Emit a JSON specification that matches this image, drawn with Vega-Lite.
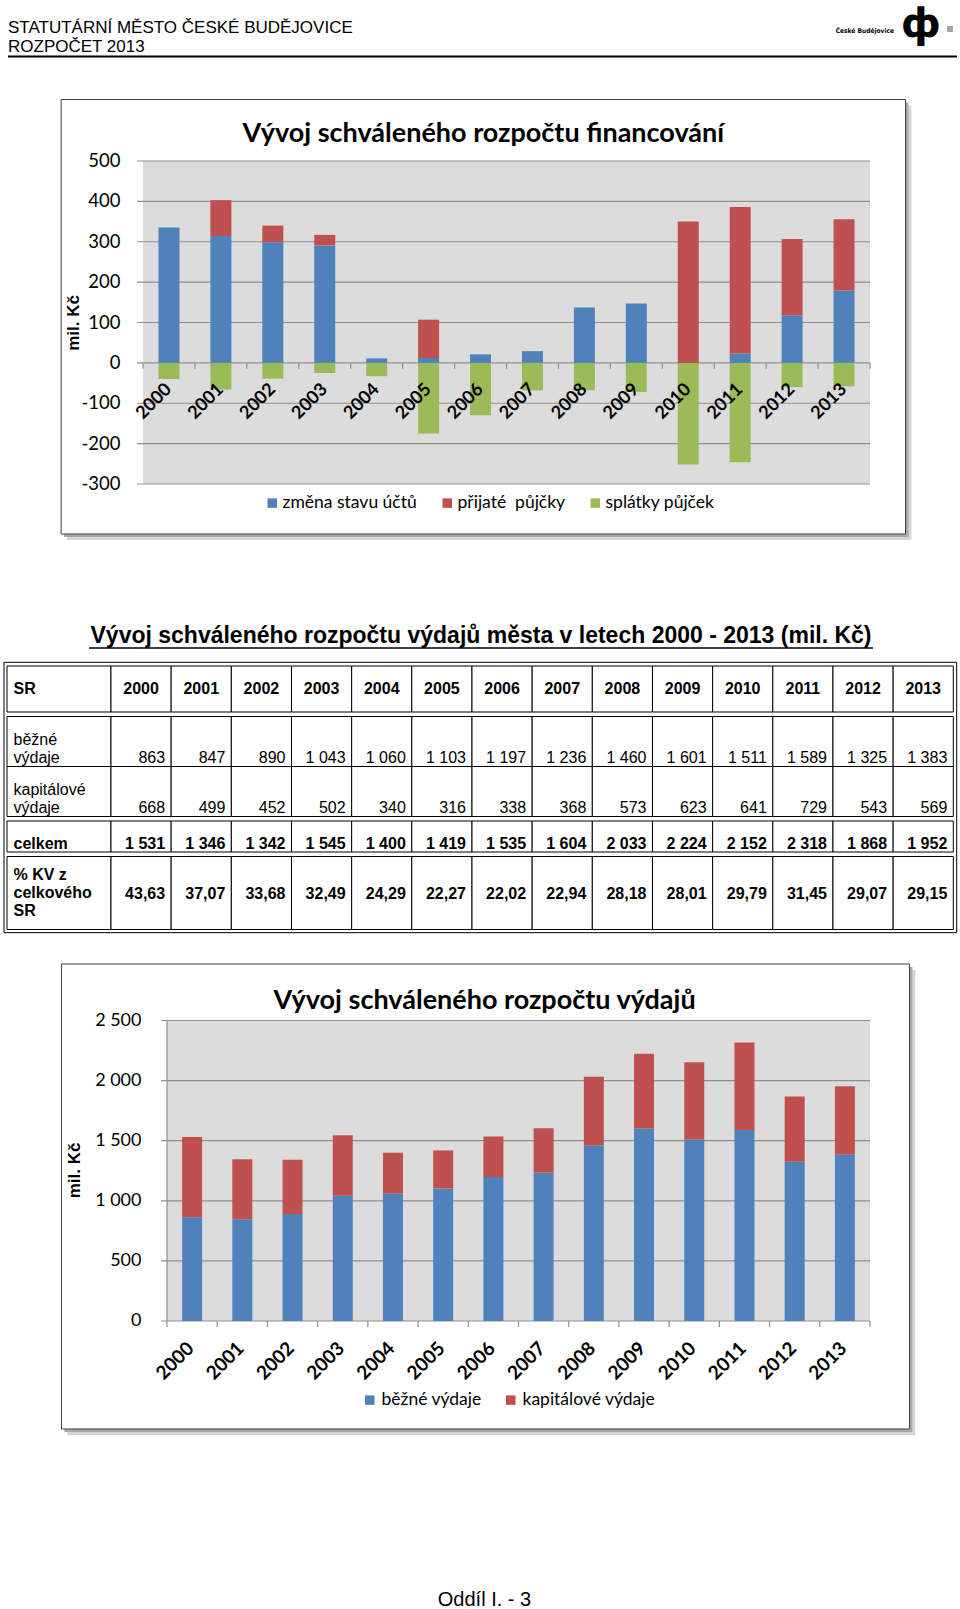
{
"$schema": "https://vega.github.io/schema/vega-lite/v6.json",
"width": 960,
"height": 1609,
"autosize": {"type": "none"},
"padding": 0,
"background": "white",
"config": {
  "view": {"stroke": null},
  "font": "Liberation Sans",
  "locale": {"number": {"decimal": ",", "thousands": " ", "grouping": [3], "currency": ["", " Kč"], "minus": "-"}}
},
"datasets": {
  "fin": [
    {"year": 2000, "series": "změna stavu účtů", "value": 335},
    {"year": 2000, "series": "splátky půjček", "value": -40},
    {"year": 2001, "series": "změna stavu účtů", "value": 314},
    {"year": 2001, "series": "přijaté\u00a0 půjčky", "value": 89},
    {"year": 2001, "series": "splátky půjček", "value": -66},
    {"year": 2002, "series": "změna stavu účtů", "value": 299},
    {"year": 2002, "series": "přijaté\u00a0 půjčky", "value": 41},
    {"year": 2002, "series": "splátky půjček", "value": -39},
    {"year": 2003, "series": "změna stavu účtů", "value": 291},
    {"year": 2003, "series": "přijaté\u00a0 půjčky", "value": 26},
    {"year": 2003, "series": "splátky půjček", "value": -25},
    {"year": 2004, "series": "změna stavu účtů", "value": 11},
    {"year": 2004, "series": "splátky půjček", "value": -33},
    {"year": 2005, "series": "změna stavu účtů", "value": 12},
    {"year": 2005, "series": "přijaté\u00a0 půjčky", "value": 95},
    {"year": 2005, "series": "splátky půjček", "value": -175},
    {"year": 2006, "series": "změna stavu účtů", "value": 21},
    {"year": 2006, "series": "splátky půjček", "value": -130},
    {"year": 2007, "series": "změna stavu účtů", "value": 29},
    {"year": 2007, "series": "splátky půjček", "value": -68},
    {"year": 2008, "series": "změna stavu účtů", "value": 137},
    {"year": 2008, "series": "splátky půjček", "value": -68},
    {"year": 2009, "series": "změna stavu účtů", "value": 147},
    {"year": 2009, "series": "splátky půjček", "value": -72},
    {"year": 2010, "series": "přijaté\u00a0 půjčky", "value": 350},
    {"year": 2010, "series": "splátky půjček", "value": -252},
    {"year": 2011, "series": "změna stavu účtů", "value": 23},
    {"year": 2011, "series": "přijaté\u00a0 půjčky", "value": 363},
    {"year": 2011, "series": "splátky půjček", "value": -246},
    {"year": 2012, "series": "změna stavu účtů", "value": 118},
    {"year": 2012, "series": "přijaté\u00a0 půjčky", "value": 189},
    {"year": 2012, "series": "splátky půjček", "value": -60},
    {"year": 2013, "series": "změna stavu účtů", "value": 179},
    {"year": 2013, "series": "přijaté\u00a0 půjčky", "value": 177},
    {"year": 2013, "series": "splátky půjček", "value": -58}
  ],
  "vyd": [
    {"year": 2000, "běžné výdaje": 863, "kapitálové výdaje": 668, "celkem": 1531, "pct": 43.63},
    {"year": 2001, "běžné výdaje": 847, "kapitálové výdaje": 499, "celkem": 1346, "pct": 37.07},
    {"year": 2002, "běžné výdaje": 890, "kapitálové výdaje": 452, "celkem": 1342, "pct": 33.68},
    {"year": 2003, "běžné výdaje": 1043, "kapitálové výdaje": 502, "celkem": 1545, "pct": 32.49},
    {"year": 2004, "běžné výdaje": 1060, "kapitálové výdaje": 340, "celkem": 1400, "pct": 24.29},
    {"year": 2005, "běžné výdaje": 1103, "kapitálové výdaje": 316, "celkem": 1419, "pct": 22.27},
    {"year": 2006, "běžné výdaje": 1197, "kapitálové výdaje": 338, "celkem": 1535, "pct": 22.02},
    {"year": 2007, "běžné výdaje": 1236, "kapitálové výdaje": 368, "celkem": 1604, "pct": 22.94},
    {"year": 2008, "běžné výdaje": 1460, "kapitálové výdaje": 573, "celkem": 2033, "pct": 28.18},
    {"year": 2009, "běžné výdaje": 1601, "kapitálové výdaje": 623, "celkem": 2224, "pct": 28.01},
    {"year": 2010, "běžné výdaje": 1511, "kapitálové výdaje": 641, "celkem": 2152, "pct": 29.79},
    {"year": 2011, "běžné výdaje": 1589, "kapitálové výdaje": 729, "celkem": 2318, "pct": 31.45},
    {"year": 2012, "běžné výdaje": 1325, "kapitálové výdaje": 543, "celkem": 1868, "pct": 29.07},
    {"year": 2013, "běžné výdaje": 1383, "kapitálové výdaje": 569, "celkem": 1952, "pct": 29.15}
  ],
  "grid1": [{"g": -300}, {"g": -200}, {"g": -100}, {"g": 0}, {"g": 100}, {"g": 200}, {"g": 300}, {"g": 400}, {"g": 500}],
  "grid2": [{"g": 0}, {"g": 500}, {"g": 1000}, {"g": 1500}, {"g": 2000}, {"g": 2500}],
  "bnd": [{"b": 1999.5}, {"b": 2000.5}, {"b": 2001.5}, {"b": 2002.5}, {"b": 2003.5}, {"b": 2004.5}, {"b": 2005.5}, {"b": 2006.5}, {"b": 2007.5}, {"b": 2008.5}, {"b": 2009.5}, {"b": 2010.5}, {"b": 2011.5}, {"b": 2012.5}, {"b": 2013.5}]
},
"resolve": {"scale": {"x": "independent", "y": "independent", "color": "independent"}, "axis": {"x": "independent", "y": "independent"}, "legend": {"color": "independent"}},
"layer": [
  {
    "layer": [
      {"data": {"values": [{}]}, "mark": {"type": "text", "text": "STATUTÁRNÍ MĚSTO ČESKÉ BUDĚJOVICE", "font": "Liberation Sans", "fontSize": 17, "color": "#000", "align": "left", "baseline": "alphabetic"},
       "encoding": {"x": {"datum": 8, "type": "quantitative", "scale": {"type": "linear", "domain": [0, 960], "range": [0, 960], "nice": false, "zero": false}, "axis": null},
                    "y": {"datum": 32.7, "type": "quantitative", "scale": {"type": "linear", "domain": [0, 1609], "range": [0, 1609], "nice": false, "zero": false}, "axis": null}}},
      {"data": {"values": [{}]}, "mark": {"type": "text", "text": "ROZPOČET 2013", "font": "Liberation Sans", "fontSize": 17, "color": "#000", "align": "left", "baseline": "alphabetic"},
       "encoding": {"x": {"datum": 8, "type": "quantitative", "scale": {"type": "linear", "domain": [0, 960], "range": [0, 960], "nice": false, "zero": false}, "axis": null},
                    "y": {"datum": 51.5, "type": "quantitative", "scale": {"type": "linear", "domain": [0, 1609], "range": [0, 1609], "nice": false, "zero": false}, "axis": null}}},
      {"data": {"values": [{}]}, "mark": {"type": "text", "text": "České Budějovice", "font": "DejaVu Sans Condensed", "fontSize": 6.6, "fontWeight": "bold", "color": "#000", "align": "right", "baseline": "alphabetic"},
       "encoding": {"x": {"datum": 894, "type": "quantitative", "scale": {"type": "linear", "domain": [0, 960], "range": [0, 960], "nice": false, "zero": false}, "axis": null},
                    "y": {"datum": 32.5, "type": "quantitative", "scale": {"type": "linear", "domain": [0, 1609], "range": [0, 1609], "nice": false, "zero": false}, "axis": null}}},
      {"data": {"values": [{}]}, "mark": {"type": "text", "text": "ф", "font": "DejaVu Sans", "fontSize": 40, "fontWeight": "bold", "color": "#000", "align": "left", "baseline": "alphabetic"},
       "encoding": {"x": {"datum": 901, "type": "quantitative", "scale": {"type": "linear", "domain": [0, 960], "range": [0, 960], "nice": false, "zero": false}, "axis": null},
                    "y": {"datum": 37, "type": "quantitative", "scale": {"type": "linear", "domain": [0, 1609], "range": [0, 1609], "nice": false, "zero": false}, "axis": null}}},
      {"data": {"values": [{}]}, "mark": {"type": "rect", "fill": "#a6a6a6"},
       "encoding": {"x": {"datum": 947, "type": "quantitative", "scale": {"type": "linear", "domain": [0, 960], "range": [0, 960], "nice": false, "zero": false}, "axis": null}, "x2": {"datum": 953},
                    "y": {"datum": 26, "type": "quantitative", "scale": {"type": "linear", "domain": [0, 1609], "range": [0, 1609], "nice": false, "zero": false}, "axis": null}, "y2": {"datum": 32}}},
      {"data": {"values": [{}]}, "mark": {"type": "rule", "color": "#000", "strokeWidth": 2},
       "encoding": {"x": {"datum": 8, "type": "quantitative", "scale": {"type": "linear", "domain": [0, 960], "range": [0, 960], "nice": false, "zero": false}, "axis": null}, "x2": {"datum": 957},
                    "y": {"datum": 56.5, "type": "quantitative", "scale": {"type": "linear", "domain": [0, 1609], "range": [0, 1609], "nice": false, "zero": false}, "axis": null}}},
      {"data": {"values": [{}]}, "mark": {"type": "text", "text": "Oddíl I. - 3", "font": "Liberation Sans", "fontSize": 20, "color": "#000", "align": "center", "baseline": "alphabetic"},
       "encoding": {"x": {"datum": 484.5, "type": "quantitative", "scale": {"type": "linear", "domain": [0, 960], "range": [0, 960], "nice": false, "zero": false}, "axis": null},
                    "y": {"datum": 1606, "type": "quantitative", "scale": {"type": "linear", "domain": [0, 1609], "range": [0, 1609], "nice": false, "zero": false}, "axis": null}}}
    ]
  },
  {
    "layer": [
      {"data": {"values": [{}]}, "mark": {"type": "rect", "fill": "#d6d6d6"},
       "encoding": {"x": {"datum": 1998.037, "type": "quantitative", "scale": {"type": "linear", "domain": [1999.5, 2013.5], "range": [138, 875], "nice": false, "zero": false}, "axis": null}, "x2": {"datum": 2014.298},
                    "y": {"datum": 637.46, "type": "quantitative", "scale": {"type": "linear", "domain": [-300, 500], "range": [484, 161], "nice": false, "zero": false}, "axis": null}, "y2": {"datum": -438.7}}},
      {"data": {"values": [{}]}, "mark": {"type": "rect", "fill": "#a8a8a8"},
       "encoding": {"x": {"datum": 1997.98, "type": "quantitative", "scale": {"type": "linear", "domain": [1999.5, 2013.5], "range": [138, 875], "nice": false, "zero": false}, "axis": null}, "x2": {"datum": 2014.241},
                    "y": {"datum": 644.89, "type": "quantitative", "scale": {"type": "linear", "domain": [-300, 500], "range": [484, 161], "nice": false, "zero": false}, "axis": null}, "y2": {"datum": -431.27}}},
      {"data": {"values": [{}]}, "mark": {"type": "rect", "fill": "#ffffff", "stroke": "#404040", "strokeWidth": 1},
       "encoding": {"x": {"datum": 1997.9233, "type": "quantitative", "scale": {"type": "linear", "domain": [1999.5, 2013.5], "range": [138, 875], "nice": false, "zero": false}, "axis": null}, "x2": {"datum": 2014.1839},
                    "y": {"datum": 652.32, "type": "quantitative", "scale": {"type": "linear", "domain": [-300, 500], "range": [484, 161], "nice": false, "zero": false}, "axis": null}, "y2": {"datum": -423.84}}},
      {"data": {"values": [{}]}, "mark": {"type": "rect", "fill": "#dcdcdc"},
       "encoding": {"x": {"datum": 1999.5, "type": "quantitative", "scale": {"type": "linear", "domain": [1999.5, 2013.5], "range": [138, 875], "nice": false, "zero": false}, "axis": null}, "x2": {"datum": 2013.5},
                    "y": {"datum": 500, "type": "quantitative", "scale": {"type": "linear", "domain": [-300, 500], "range": [484, 161], "nice": false, "zero": false}, "axis": null}, "y2": {"datum": -300}}},
      {"data": {"name": "grid1"}, "mark": {"type": "rule", "color": "#8f8f8f", "strokeWidth": 1.2},
       "encoding": {"x": {"datum": 1999.386, "type": "quantitative", "scale": {"type": "linear", "domain": [1999.5, 2013.5], "range": [138, 875], "nice": false, "zero": false}, "axis": null}, "x2": {"datum": 2013.5},
                    "y": {"field": "g", "type": "quantitative", "scale": {"type": "linear", "domain": [-300, 500], "range": [484, 161], "nice": false, "zero": false}, "axis": null}}},
      {"data": {"name": "bnd"}, "mark": {"type": "rule", "color": "#8f8f8f", "strokeWidth": 1.2},
       "encoding": {"x": {"field": "b", "type": "quantitative", "scale": {"type": "linear", "domain": [1999.5, 2013.5], "range": [138, 875], "nice": false, "zero": false}, "axis": null},
                    "y": {"datum": 0, "type": "quantitative", "scale": {"type": "linear", "domain": [-300, 500], "range": [484, 161], "nice": false, "zero": false}, "axis": null}, "y2": {"datum": -14.86}}},
      {"data": {"values": [{}]}, "mark": {"type": "text", "text": "Vývoj schváleného rozpočtu financování", "font": "Lato", "fontSize": 27, "fontWeight": "bold", "color": "#000", "align": "center", "baseline": "alphabetic"},
       "encoding": {"x": {"datum": 2006.054, "type": "quantitative", "scale": {"type": "linear", "domain": [1999.5, 2013.5], "range": [138, 875], "nice": false, "zero": false}, "axis": null},
                    "y": {"datum": 547.8, "type": "quantitative", "scale": {"type": "linear", "domain": [-300, 500], "range": [484, 161], "nice": false, "zero": false}, "axis": null}}},
      {"data": {"name": "grid1"}, "mark": {"type": "text", "font": "Lato", "fontSize": 18.5, "color": "#000", "align": "right", "baseline": "middle", "dx": -22.5},
       "encoding": {"x": {"datum": 1999.5, "type": "quantitative", "scale": {"type": "linear", "domain": [1999.5, 2013.5], "range": [138, 875], "nice": false, "zero": false}, "axis": null},
                    "y": {"field": "g", "type": "quantitative", "scale": {"type": "linear", "domain": [-300, 500], "range": [484, 161], "nice": false, "zero": false}, "axis": null},
                    "text": {"field": "g", "type": "quantitative", "format": "d"}}},
      {"data": {"values": [{}]}, "mark": {"type": "text", "text": "mil. Kč", "angle": 270, "font": "Liberation Sans", "fontSize": 17, "fontWeight": "bold", "color": "#000", "align": "center", "baseline": "middle"},
       "encoding": {"x": {"datum": 1998.165, "type": "quantitative", "scale": {"type": "linear", "domain": [1999.5, 2013.5], "range": [138, 875], "nice": false, "zero": false}, "axis": null},
                    "y": {"datum": 98.8, "type": "quantitative", "scale": {"type": "linear", "domain": [-300, 500], "range": [484, 161], "nice": false, "zero": false}, "axis": null}}},
      {"data": {"name": "fin"},
       "transform": [{"calculate": "indexof(['změna stavu účtů','přijaté\u00a0 půjčky','splátky půjček'], datum.series)", "as": "ord"}],
       "mark": {"type": "bar", "width": 21},
       "encoding": {
         "x": {"field": "year", "type": "quantitative", "scale": {"type": "linear", "domain": [1999.5, 2013.5], "range": [138, 875], "nice": false, "zero": false}, "axis": null},
         "y": {"field": "value", "type": "quantitative", "stack": "zero", "scale": {"type": "linear", "domain": [-300, 500], "range": [484, 161], "nice": false, "zero": false}, "axis": null},
         "color": {"field": "series", "type": "nominal",
                   "scale": {"domain": ["změna stavu účtů", "přijaté\u00a0 půjčky", "splátky půjček"], "range": ["#4f81bd", "#c0504d", "#9bbb59"]},
                   "legend": {"orient": "none", "legendX": 263.5, "legendY": 494, "direction": "horizontal", "title": null, "symbolType": "square", "symbolSize": 90, "symbolStrokeWidth": 0, "labelFont": "Lato", "labelFontSize": 17.5, "labelColor": "#000", "labelOffset": 1.5, "columnPadding": 21, "padding": 0, "labelLimit": 0}},
         "order": {"field": "ord", "type": "quantitative"}
       }},
      {"data": {"name": "vyd"}, "mark": {"type": "text", "angle": 315, "font": "Lato", "fontSize": 18, "fontWeight": "bold", "color": "#000", "align": "right", "baseline": "middle"},
       "encoding": {"x": {"field": "year", "type": "quantitative", "scale": {"type": "linear", "domain": [1999.5, 2013.5], "range": [138, 875], "nice": false, "zero": false}, "axis": null},
                    "y": {"datum": -59.44, "type": "quantitative", "scale": {"type": "linear", "domain": [-300, 500], "range": [484, 161], "nice": false, "zero": false}, "axis": null},
                    "text": {"field": "year", "type": "quantitative", "format": "d"}}}
    ]
  },
  {
    "resolve": {"scale": {"y": "independent"}},
    "layer": [
      {"data": {"values": [{}]}, "mark": {"type": "rect", "fillOpacity": 0, "stroke": "#000", "strokeWidth": 1},
       "encoding": {"x": {"datum": 1998.2215, "type": "quantitative", "scale": {"type": "linear", "domain": [1998.2714, 2014], "range": [7, 953.3], "nice": false, "zero": false}, "axis": null}, "x2": {"datum": 2014.0565},
                    "y": {"datum": 0, "type": "quantitative", "scale": {"type": "linear", "domain": [0, 1], "range": [932.7, 662.3], "nice": false, "zero": false}, "axis": null}, "y2": {"datum": 1}}},
      {
        "layer": [
          {"data": {"values": [{}]}, "mark": {"type": "text", "text": "Vývoj schváleného rozpočtu výdajů města v letech 2000 - 2013 (mil. Kč)", "font": "Liberation Sans", "fontSize": 23, "fontWeight": "bold", "color": "#000", "align": "center", "baseline": "alphabetic"},
           "encoding": {"x": {"datum": 2006.15, "type": "quantitative", "scale": {"type": "linear", "domain": [1998.2714, 2014], "range": [7, 953.3], "nice": false, "zero": false}, "axis": null},
                        "y": {"datum": 1.5, "type": "quantitative", "scale": {"type": "linear", "domain": [0, 1], "range": [712, 666], "nice": false, "zero": false}, "axis": null}}},
          {"data": {"values": [{}]}, "mark": {"type": "rule", "color": "#000", "strokeWidth": 1.5},
           "encoding": {"x": {"datum": 1999.6343, "type": "quantitative", "scale": {"type": "linear", "domain": [1998.2714, 2014], "range": [7, 953.3], "nice": false, "zero": false}, "axis": null}, "x2": {"datum": 2012.6656},
                        "y": {"datum": 1.39, "type": "quantitative", "scale": {"type": "linear", "domain": [0, 1], "range": [712, 666], "nice": false, "zero": false}, "axis": null}}},
          {"data": {"values": [{}]}, "mark": {"type": "rect", "fill": "white", "stroke": "#000", "strokeWidth": 1},
           "encoding": {"x": {"datum": 1998.2714, "type": "quantitative", "scale": {"type": "linear", "domain": [1998.2714, 2014], "range": [7, 953.3], "nice": false, "zero": false}, "axis": null}, "x2": {"datum": 2000},
                        "y": {"datum": 0, "type": "quantitative", "scale": {"type": "linear", "domain": [0, 1], "range": [712, 666], "nice": false, "zero": false}, "axis": null}, "y2": {"datum": 1}}},
          {"data": {"name": "vyd"}, "transform": [{"calculate": "datum.year + 1", "as": "year_end"}], "mark": {"type": "rect", "fill": "white", "stroke": "#000", "strokeWidth": 1},
           "encoding": {"x": {"field": "year", "type": "quantitative", "scale": {"type": "linear", "domain": [1998.2714, 2014], "range": [7, 953.3], "nice": false, "zero": false}, "axis": null}, "x2": {"field": "year_end"},
                        "y": {"datum": 0, "type": "quantitative", "scale": {"type": "linear", "domain": [0, 1], "range": [712, 666], "nice": false, "zero": false}, "axis": null}, "y2": {"datum": 1}}},
          {"data": {"values": [{}]}, "mark": {"type": "text", "text": "SR", "font": "Liberation Sans", "fontSize": 16, "fontWeight": "bold", "color": "#000", "align": "left", "baseline": "alphabetic", "dx": 6.5, "dy": 5.3},
           "encoding": {"x": {"datum": 1998.2714, "type": "quantitative", "scale": {"type": "linear", "domain": [1998.2714, 2014], "range": [7, 953.3], "nice": false, "zero": false}, "axis": null},
                        "y": {"datum": 0.5, "type": "quantitative", "scale": {"type": "linear", "domain": [0, 1], "range": [712, 666], "nice": false, "zero": false}, "axis": null}}},
          {"data": {"name": "vyd"}, "transform": [{"calculate": "datum.year + 0.5", "as": "mid"}],
           "mark": {"type": "text", "font": "Liberation Sans", "fontSize": 16, "fontWeight": "bold", "color": "#000", "align": "center", "baseline": "alphabetic", "dy": 5.3},
           "encoding": {"x": {"field": "mid", "type": "quantitative", "scale": {"type": "linear", "domain": [1998.2714, 2014], "range": [7, 953.3], "nice": false, "zero": false}, "axis": null},
                        "y": {"datum": 0.5, "type": "quantitative", "scale": {"type": "linear", "domain": [0, 1], "range": [712, 666], "nice": false, "zero": false}, "axis": null},
                        "text": {"field": "year", "type": "quantitative", "format": "d"}}}
        ]
      },
      {
        "layer": [
          {"data": {"name": "vyd"}, "transform": [{"filter": "datum.year == 2000"}, {"fold": ["běžné výdaje", "kapitálové výdaje"], "as": ["series", "value"]}],
           "mark": {"type": "rect", "fill": "white", "stroke": "#000", "strokeWidth": 1},
           "encoding": {"x": {"datum": 1998.2714, "type": "quantitative", "scale": {"type": "linear", "domain": [1998.2714, 2014], "range": [7, 953.3], "nice": false, "zero": false}, "axis": null}, "x2": {"datum": 2000},
                        "y": {"field": "series", "type": "nominal", "scale": {"type": "band", "domain": ["běžné výdaje", "kapitálové výdaje"], "range": [716.5, 816.5], "paddingInner": 0, "paddingOuter": 0}, "axis": null}}},
          {"data": {"name": "vyd"}, "transform": [{"fold": ["běžné výdaje", "kapitálové výdaje"], "as": ["series", "value"]}, {"calculate": "datum.year + 1", "as": "year_end"}],
           "mark": {"type": "rect", "fill": "white", "stroke": "#000", "strokeWidth": 1},
           "encoding": {"x": {"field": "year", "type": "quantitative", "scale": {"type": "linear", "domain": [1998.2714, 2014], "range": [7, 953.3], "nice": false, "zero": false}, "axis": null}, "x2": {"field": "year_end"},
                        "y": {"field": "series", "type": "nominal", "scale": {"type": "band", "domain": ["běžné výdaje", "kapitálové výdaje"], "range": [716.5, 816.5], "paddingInner": 0, "paddingOuter": 0}, "axis": null}}},
          {"data": {"name": "vyd"}, "transform": [{"fold": ["běžné výdaje", "kapitálové výdaje"], "as": ["series", "value"]}, {"calculate": "datum.year + 1", "as": "year_end"}],
           "mark": {"type": "text", "font": "Liberation Sans", "fontSize": 16, "color": "#000", "align": "right", "baseline": "alphabetic", "dx": -6, "dy": 21.5},
           "encoding": {"x": {"field": "year_end", "type": "quantitative", "scale": {"type": "linear", "domain": [1998.2714, 2014], "range": [7, 953.3], "nice": false, "zero": false}, "axis": null},
                        "y": {"field": "series", "type": "nominal", "scale": {"type": "band", "domain": ["běžné výdaje", "kapitálové výdaje"], "range": [716.5, 816.5], "paddingInner": 0, "paddingOuter": 0}, "axis": null},
                        "text": {"field": "value", "type": "quantitative", "format": ",d"}}},
          {"data": {"values": [{}]}, "mark": {"type": "text", "text": ["běžné", "výdaje"], "lineHeight": 18.5, "font": "Liberation Sans", "fontSize": 16, "color": "#000", "align": "left", "baseline": "alphabetic", "dx": 6.5, "dy": 3},
           "encoding": {"x": {"datum": 1998.2714, "type": "quantitative", "scale": {"type": "linear", "domain": [1998.2714, 2014], "range": [7, 953.3], "nice": false, "zero": false}, "axis": null},
                        "y": {"datum": "běžné výdaje", "type": "nominal", "scale": {"type": "band", "domain": ["běžné výdaje", "kapitálové výdaje"], "range": [716.5, 816.5], "paddingInner": 0, "paddingOuter": 0}, "axis": null}}},
          {"data": {"values": [{}]}, "mark": {"type": "text", "text": ["kapitálové", "výdaje"], "lineHeight": 18.5, "font": "Liberation Sans", "fontSize": 16, "color": "#000", "align": "left", "baseline": "alphabetic", "dx": 6.5, "dy": 3},
           "encoding": {"x": {"datum": 1998.2714, "type": "quantitative", "scale": {"type": "linear", "domain": [1998.2714, 2014], "range": [7, 953.3], "nice": false, "zero": false}, "axis": null},
                        "y": {"datum": "kapitálové výdaje", "type": "nominal", "scale": {"type": "band", "domain": ["běžné výdaje", "kapitálové výdaje"], "range": [716.5, 816.5], "paddingInner": 0, "paddingOuter": 0}, "axis": null}}}
        ]
      },
      {
        "layer": [
          {"data": {"values": [{}]}, "mark": {"type": "rect", "fill": "white", "stroke": "#000", "strokeWidth": 1},
           "encoding": {"x": {"datum": 1998.2714, "type": "quantitative", "scale": {"type": "linear", "domain": [1998.2714, 2014], "range": [7, 953.3], "nice": false, "zero": false}, "axis": null}, "x2": {"datum": 2000},
                        "y": {"datum": 0, "type": "quantitative", "scale": {"type": "linear", "domain": [0, 1], "range": [852, 821], "nice": false, "zero": false}, "axis": null}, "y2": {"datum": 1}}},
          {"data": {"name": "vyd"}, "transform": [{"calculate": "datum.year + 1", "as": "year_end"}], "mark": {"type": "rect", "fill": "white", "stroke": "#000", "strokeWidth": 1},
           "encoding": {"x": {"field": "year", "type": "quantitative", "scale": {"type": "linear", "domain": [1998.2714, 2014], "range": [7, 953.3], "nice": false, "zero": false}, "axis": null}, "x2": {"field": "year_end"},
                        "y": {"datum": 0, "type": "quantitative", "scale": {"type": "linear", "domain": [0, 1], "range": [852, 821], "nice": false, "zero": false}, "axis": null}, "y2": {"datum": 1}}},
          {"data": {"values": [{}]}, "mark": {"type": "text", "text": "celkem", "font": "Liberation Sans", "fontSize": 16, "fontWeight": "bold", "color": "#000", "align": "left", "baseline": "alphabetic", "dx": 6.5, "dy": 12},
           "encoding": {"x": {"datum": 1998.2714, "type": "quantitative", "scale": {"type": "linear", "domain": [1998.2714, 2014], "range": [7, 953.3], "nice": false, "zero": false}, "axis": null},
                        "y": {"datum": 0.5, "type": "quantitative", "scale": {"type": "linear", "domain": [0, 1], "range": [852, 821], "nice": false, "zero": false}, "axis": null}}},
          {"data": {"name": "vyd"}, "transform": [{"calculate": "datum.year + 1", "as": "year_end"}],
           "mark": {"type": "text", "font": "Liberation Sans", "fontSize": 16, "fontWeight": "bold", "color": "#000", "align": "right", "baseline": "alphabetic", "dx": -6, "dy": 12},
           "encoding": {"x": {"field": "year_end", "type": "quantitative", "scale": {"type": "linear", "domain": [1998.2714, 2014], "range": [7, 953.3], "nice": false, "zero": false}, "axis": null},
                        "y": {"datum": 0.5, "type": "quantitative", "scale": {"type": "linear", "domain": [0, 1], "range": [852, 821], "nice": false, "zero": false}, "axis": null},
                        "text": {"field": "celkem", "type": "quantitative", "format": ",d"}}}
        ]
      },
      {
        "layer": [
          {"data": {"values": [{}]}, "mark": {"type": "rect", "fill": "white", "stroke": "#000", "strokeWidth": 1},
           "encoding": {"x": {"datum": 1998.2714, "type": "quantitative", "scale": {"type": "linear", "domain": [1998.2714, 2014], "range": [7, 953.3], "nice": false, "zero": false}, "axis": null}, "x2": {"datum": 2000},
                        "y": {"datum": 0, "type": "quantitative", "scale": {"type": "linear", "domain": [0, 1], "range": [929.5, 856.5], "nice": false, "zero": false}, "axis": null}, "y2": {"datum": 1}}},
          {"data": {"name": "vyd"}, "transform": [{"calculate": "datum.year + 1", "as": "year_end"}], "mark": {"type": "rect", "fill": "white", "stroke": "#000", "strokeWidth": 1},
           "encoding": {"x": {"field": "year", "type": "quantitative", "scale": {"type": "linear", "domain": [1998.2714, 2014], "range": [7, 953.3], "nice": false, "zero": false}, "axis": null}, "x2": {"field": "year_end"},
                        "y": {"datum": 0, "type": "quantitative", "scale": {"type": "linear", "domain": [0, 1], "range": [929.5, 856.5], "nice": false, "zero": false}, "axis": null}, "y2": {"datum": 1}}},
          {"data": {"values": [{}]}, "mark": {"type": "text", "text": ["% KV z", "celkového", "SR"], "lineHeight": 18, "font": "Liberation Sans", "fontSize": 16, "fontWeight": "bold", "color": "#000", "align": "left", "baseline": "alphabetic", "dx": 6.5, "dy": -13.3},
           "encoding": {"x": {"datum": 1998.2714, "type": "quantitative", "scale": {"type": "linear", "domain": [1998.2714, 2014], "range": [7, 953.3], "nice": false, "zero": false}, "axis": null},
                        "y": {"datum": 0.5, "type": "quantitative", "scale": {"type": "linear", "domain": [0, 1], "range": [929.5, 856.5], "nice": false, "zero": false}, "axis": null}}},
          {"data": {"name": "vyd"}, "transform": [{"calculate": "datum.year + 1", "as": "year_end"}],
           "mark": {"type": "text", "font": "Liberation Sans", "fontSize": 16, "fontWeight": "bold", "color": "#000", "align": "right", "baseline": "alphabetic", "dx": -6, "dy": 5.5},
           "encoding": {"x": {"field": "year_end", "type": "quantitative", "scale": {"type": "linear", "domain": [1998.2714, 2014], "range": [7, 953.3], "nice": false, "zero": false}, "axis": null},
                        "y": {"datum": 0.5, "type": "quantitative", "scale": {"type": "linear", "domain": [0, 1], "range": [929.5, 856.5], "nice": false, "zero": false}, "axis": null},
                        "text": {"field": "pct", "type": "quantitative", "format": ".2f"}}}
        ]
      }
    ]
  },
  {
    "layer": [
      {"data": {"values": [{}]}, "mark": {"type": "rect", "fill": "#d6d6d6"},
       "encoding": {"x": {"datum": 1997.517, "type": "quantitative", "scale": {"type": "linear", "domain": [1999.5, 2013.5], "range": [162, 875], "nice": false, "zero": false}, "axis": null}, "x2": {"datum": 2014.403},
                    "y": {"datum": 2920.13, "type": "quantitative", "scale": {"type": "linear", "domain": [0, 2500], "range": [1321, 1020.5], "nice": false, "zero": false}, "axis": null}, "y2": {"datum": -948.42}}},
      {"data": {"values": [{}]}, "mark": {"type": "rect", "fill": "#a8a8a8"},
       "encoding": {"x": {"datum": 1997.458, "type": "quantitative", "scale": {"type": "linear", "domain": [1999.5, 2013.5], "range": [162, 875], "nice": false, "zero": false}, "axis": null}, "x2": {"datum": 2014.344},
                    "y": {"datum": 2945.09, "type": "quantitative", "scale": {"type": "linear", "domain": [0, 2500], "range": [1321, 1020.5], "nice": false, "zero": false}, "axis": null}, "y2": {"datum": -923.46}}},
      {"data": {"values": [{}]}, "mark": {"type": "rect", "fill": "#ffffff", "stroke": "#404040", "strokeWidth": 1},
       "encoding": {"x": {"datum": 1997.399, "type": "quantitative", "scale": {"type": "linear", "domain": [1999.5, 2013.5], "range": [162, 875], "nice": false, "zero": false}, "axis": null}, "x2": {"datum": 2014.2854},
                    "y": {"datum": 2970.05, "type": "quantitative", "scale": {"type": "linear", "domain": [0, 2500], "range": [1321, 1020.5], "nice": false, "zero": false}, "axis": null}, "y2": {"datum": -898.5}}},
      {"data": {"values": [{}]}, "mark": {"type": "rect", "fill": "#dcdcdc"},
       "encoding": {"x": {"datum": 1999.5, "type": "quantitative", "scale": {"type": "linear", "domain": [1999.5, 2013.5], "range": [162, 875], "nice": false, "zero": false}, "axis": null}, "x2": {"datum": 2013.5},
                    "y": {"datum": 2500, "type": "quantitative", "scale": {"type": "linear", "domain": [0, 2500], "range": [1321, 1020.5], "nice": false, "zero": false}, "axis": null}, "y2": {"datum": 0}}},
      {"data": {"name": "grid2"}, "mark": {"type": "rule", "color": "#8f8f8f", "strokeWidth": 1.2},
       "encoding": {"x": {"datum": 1999.382, "type": "quantitative", "scale": {"type": "linear", "domain": [1999.5, 2013.5], "range": [162, 875], "nice": false, "zero": false}, "axis": null}, "x2": {"datum": 2013.5},
                    "y": {"field": "g", "type": "quantitative", "scale": {"type": "linear", "domain": [0, 2500], "range": [1321, 1020.5], "nice": false, "zero": false}, "axis": null}}},
      {"data": {"values": [{}]}, "mark": {"type": "rule", "color": "#8f8f8f", "strokeWidth": 1.2},
       "encoding": {"x": {"datum": 1999.5, "type": "quantitative", "scale": {"type": "linear", "domain": [1999.5, 2013.5], "range": [162, 875], "nice": false, "zero": false}, "axis": null},
                    "y": {"datum": 0, "type": "quantitative", "scale": {"type": "linear", "domain": [0, 2500], "range": [1321, 1020.5], "nice": false, "zero": false}, "axis": null}, "y2": {"datum": 2500}}},
      {"data": {"name": "bnd"}, "mark": {"type": "rule", "color": "#8f8f8f", "strokeWidth": 1.2},
       "encoding": {"x": {"field": "b", "type": "quantitative", "scale": {"type": "linear", "domain": [1999.5, 2013.5], "range": [162, 875], "nice": false, "zero": false}, "axis": null},
                    "y": {"datum": 0, "type": "quantitative", "scale": {"type": "linear", "domain": [0, 2500], "range": [1321, 1020.5], "nice": false, "zero": false}, "axis": null}, "y2": {"datum": -49.9}}},
      {"data": {"values": [{}]}, "mark": {"type": "text", "text": "Vývoj schváleného rozpočtu výdajů", "font": "Lato", "fontSize": 27, "fontWeight": "bold", "color": "#000", "align": "center", "baseline": "alphabetic"},
       "encoding": {"x": {"datum": 2005.823, "type": "quantitative", "scale": {"type": "linear", "domain": [1999.5, 2013.5], "range": [162, 875], "nice": false, "zero": false}, "axis": null},
                    "y": {"datum": 2595.7, "type": "quantitative", "scale": {"type": "linear", "domain": [0, 2500], "range": [1321, 1020.5], "nice": false, "zero": false}, "axis": null}}},
      {"data": {"name": "grid2"}, "mark": {"type": "text", "font": "Lato", "fontSize": 18, "color": "#000", "align": "right", "baseline": "middle", "dx": -25.5},
       "encoding": {"x": {"datum": 1999.5, "type": "quantitative", "scale": {"type": "linear", "domain": [1999.5, 2013.5], "range": [162, 875], "nice": false, "zero": false}, "axis": null},
                    "y": {"field": "g", "type": "quantitative", "scale": {"type": "linear", "domain": [0, 2500], "range": [1321, 1020.5], "nice": false, "zero": false}, "axis": null},
                    "text": {"field": "g", "type": "quantitative", "format": ",d"}}},
      {"data": {"values": [{}]}, "mark": {"type": "text", "text": "mil. Kč", "angle": 270, "font": "Liberation Sans", "fontSize": 17, "fontWeight": "bold", "color": "#000", "align": "center", "baseline": "middle"},
       "encoding": {"x": {"datum": 1997.67, "type": "quantitative", "scale": {"type": "linear", "domain": [1999.5, 2013.5], "range": [162, 875], "nice": false, "zero": false}, "axis": null},
                    "y": {"datum": 1252.1, "type": "quantitative", "scale": {"type": "linear", "domain": [0, 2500], "range": [1321, 1020.5], "nice": false, "zero": false}, "axis": null}}},
      {"data": {"name": "vyd"},
       "transform": [{"fold": ["běžné výdaje", "kapitálové výdaje"], "as": ["series", "value"]}, {"calculate": "indexof(['běžné výdaje','kapitálové výdaje'], datum.series)", "as": "ord"}],
       "mark": {"type": "bar", "width": 20},
       "encoding": {
         "x": {"field": "year", "type": "quantitative", "scale": {"type": "linear", "domain": [1999.5, 2013.5], "range": [162, 875], "nice": false, "zero": false}, "axis": null},
         "y": {"field": "value", "type": "quantitative", "stack": "zero", "scale": {"type": "linear", "domain": [0, 2500], "range": [1321, 1020.5], "nice": false, "zero": false}, "axis": null},
         "color": {"field": "series", "type": "nominal",
                   "scale": {"domain": ["běžné výdaje", "kapitálové výdaje"], "range": ["#4f81bd", "#c0504d"]},
                   "legend": {"orient": "none", "legendX": 361, "legendY": 1391, "direction": "horizontal", "title": null, "symbolType": "square", "symbolSize": 90, "symbolStrokeWidth": 0, "labelFont": "Lato", "labelFontSize": 17.5, "labelColor": "#000", "labelOffset": 3, "columnPadding": 20, "padding": 0, "labelLimit": 0}},
         "order": {"field": "ord", "type": "quantitative"}
       }},
      {"data": {"name": "vyd"}, "mark": {"type": "text", "angle": 315, "font": "Lato", "fontSize": 19, "fontWeight": "bold", "color": "#000", "align": "right", "baseline": "middle", "dx": -2},
       "encoding": {"x": {"field": "year", "type": "quantitative", "scale": {"type": "linear", "domain": [1999.5, 2013.5], "range": [162, 875], "nice": false, "zero": false}, "axis": null},
                    "y": {"datum": -191.3, "type": "quantitative", "scale": {"type": "linear", "domain": [0, 2500], "range": [1321, 1020.5], "nice": false, "zero": false}, "axis": null},
                    "text": {"field": "year", "type": "quantitative", "format": "d"}}}
    ]
  }
]
}
